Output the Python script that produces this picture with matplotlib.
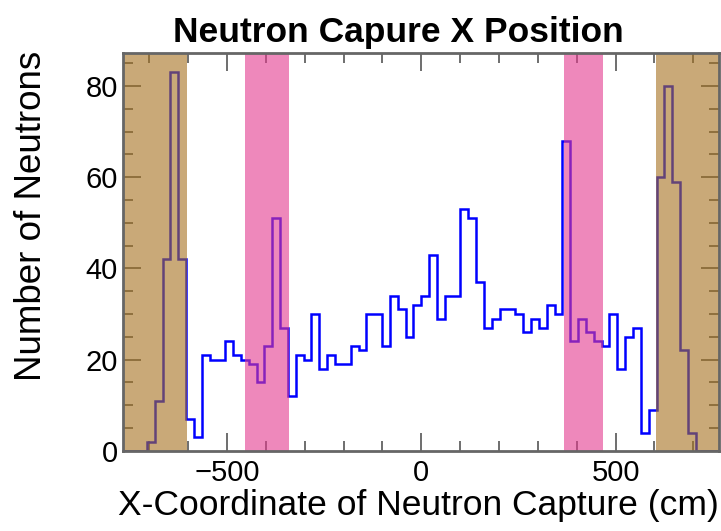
import numpy as np
import matplotlib
matplotlib.use("Agg")
import matplotlib.pyplot as plt
from matplotlib.ticker import MultipleLocator

# ---- data ----
x_min, x_max = -767, 767
n_bins = 76
counts = [0, 0, 0, 2, 11, 42, 83, 42, 7, 3,
          21, 20, 20, 24, 21, 20, 19, 15, 23, 51,
          27, 12, 21, 20, 30, 18, 21, 19, 19, 23,
          22, 30, 30, 23, 34, 31, 25, 32, 34, 43,
          29, 34, 34, 53, 51, 37, 27, 29, 31, 31,
          30, 26, 29, 27, 32, 30, 68, 24, 29, 26,
          24, 23, 30, 18, 25, 27, 4, 9, 60, 80,
          59, 22, 4, 0, 0, 0]
brown_regions = [(x_min, -603), (604, x_max)]
pink_regions = [(-453, -340), (368, 467)]
title = "Neutron Capure X Position"
xlabel = "X-Coordinate of Neutron Capture (cm)"
ylabel = "Number of Neutrons"

plt.rcParams['font.family'] = ['Liberation Sans', 'DejaVu Sans']

fig = plt.figure(figsize=(7.21, 5.31), dpi=100)
ax = fig.add_axes([0.171, 0.151, 0.8266, 0.749])

edges = np.linspace(x_min, x_max, n_bins + 1)
ax.stairs(counts, edges, color='#0000ff', lw=1.8, zorder=2)

for a, b in brown_regions:
    ax.axvspan(a, b, color='#a5711f', alpha=0.6, lw=0, zorder=3)
for a, b in pink_regions:
    ax.axvspan(a, b, color='#e3398e', alpha=0.6, lw=0, zorder=3)

ax.set_xlim(x_min, x_max)
ax.set_ylim(0, 87.2)

ax.xaxis.set_major_locator(MultipleLocator(500))
ax.xaxis.set_minor_locator(MultipleLocator(100))
ax.yaxis.set_major_locator(MultipleLocator(20))
ax.yaxis.set_minor_locator(MultipleLocator(5))
ax.tick_params(which='both', direction='in', top=True, right=True,
               labelsize=21, color='#555555', zorder=5)
ax.tick_params(which='major', length=13, width=1.2)
ax.tick_params(which='minor', length=7, width=1.2)
ax.tick_params(axis='x', which='major', pad=6)
ax.tick_params(axis='y', which='major', pad=4)

for s in ax.spines.values():
    s.set_color('#666666')
    s.set_linewidth(2)
    s.set_zorder(6)

ax.set_title(title, fontsize=25.5, fontweight='bold', pad=8, x=0.462)
ax.set_xlabel(xlabel, fontsize=25.5)
ax.set_ylabel(ylabel, fontsize=26.5)
ax.yaxis.set_label_coords(-0.125, 0.59)
ax.xaxis.set_label_coords(0.496, -0.095)

fig.savefig("out.png", dpi=100)
